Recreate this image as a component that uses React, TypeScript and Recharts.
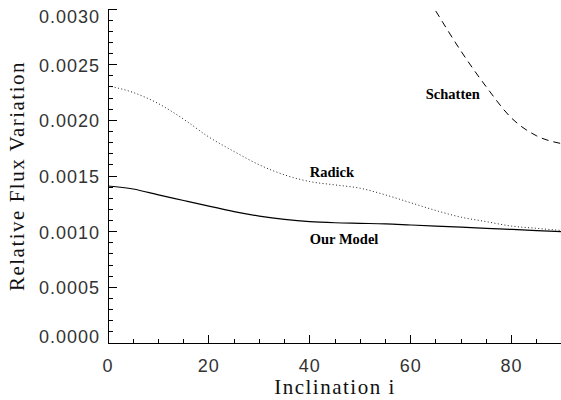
import React from "react";
import { LineChart, Line, XAxis, YAxis, ReferenceDot } from "recharts";

// inclination grid (degrees)
const inclination = [0, 5, 10, 15, 20, 25, 30, 35, 40, 45, 50, 55, 60, 65, 70, 75, 80, 85, 90];

// relative flux variation for each model
const modelFlux = [
  0.00141, 0.001383, 0.00133, 0.00128, 0.00123, 0.00118, 0.00114, 0.00111, 0.00109, 0.00108,
  0.001075, 0.00107, 0.00106, 0.00105, 0.00104, 0.00103, 0.00102, 0.00101, 0.001,
];
const radickFlux = [
  0.00231, 0.00225, 0.00215, 0.00201, 0.00185, 0.00172, 0.0016, 0.00151, 0.00145, 0.00142,
  0.00139, 0.00133, 0.00126, 0.00119, 0.00113, 0.00109, 0.00105, 0.00103, 0.00101,
];
const schattenFlux = [
  null, null, null, null, null, null, null, null, null, null,
  null, null, 0.00335, 0.00298, 0.00262, 0.0023, 0.00202, 0.00186, 0.00179,
];

// series labels: [text, inclination, flux at baseline]
const seriesLabels: [string, number, number][] = [
  ["Schatten", 63, 0.002194],
  ["Radick", 40, 0.001494],
  ["Our Model", 40, 0.000892],
];

const xTicks = inclination;
const xMajor = [0, 20, 40, 60, 80];
const yTicks = Array.from({ length: 31 }, (_, k) => k / 10000);

const rows = inclination.map((incl, i) => ({
  incl,
  model: modelFlux[i],
  radick: radickFlux[i],
  schatten: schattenFlux[i],
}));

const tickFont = { fontFamily: "Liberation Sans, Arial, sans-serif", fontSize: 18, fill: "#333", letterSpacing: 1 };
const isYMajor = (v: number) => Math.round(v * 10000) % 5 === 0;

const LeftTick = ({ x, y, payload }: any) => {
  const v = payload.value;
  const major = isYMajor(v);
  let dy = 1;
  if (Math.round(v * 10000) === 30) dy = 8;
  if (Math.round(v * 10000) === 0) dy = -6;
  return (
    <g>
      <line x1={x} x2={x + (major ? 9 : 5)} y1={y} y2={y} stroke="#000" shapeRendering="crispEdges" />
      {major && (
        <text x={x - 8} y={y + dy} textAnchor="end" dominantBaseline="central" {...tickFont}>
          {v.toFixed(4)}
        </text>
      )}
    </g>
  );
};

const RightTick = ({ x, y, payload }: any) => {
  const major = isYMajor(payload.value);
  return <line x1={x} x2={x - (major ? 9 : 5)} y1={y} y2={y} stroke="#000" shapeRendering="crispEdges" />;
};

const BottomTick = ({ x, y, payload }: any) => {
  const major = xMajor.includes(payload.value);
  return (
    <g>
      <line x1={x} x2={x} y1={y} y2={y - (major ? 8 : 4.5)} stroke="#000" shapeRendering="crispEdges" />
      {major && (
        <text x={x} y={y + 23} textAnchor="middle" dominantBaseline="central" {...tickFont}>
          {payload.value}
        </text>
      )}
    </g>
  );
};

const TopTick = ({ x, y, payload }: any) => {
  const major = xMajor.includes(payload.value);
  return <line x1={x} x2={x} y1={y} y2={y + (major ? 8 : 4.5)} stroke="#000" shapeRendering="crispEdges" />;
};

const axisLine = { stroke: "#000", shapeRendering: "crispEdges" };
const labelFont = { fontFamily: "Liberation Serif, serif", fontSize: 21, fill: "#111", letterSpacing: 1.5 };

export default function App() {
  return (
    <div style={{ position: "absolute", left: 0, top: 0, width: 561, height: 400, overflow: "hidden", background: "#fff" }}>
      <LineChart width={565} height={400} data={rows} margin={{ top: 9, right: 3, bottom: 0, left: 0 }}>
        <XAxis
          xAxisId="bottom"
          type="number"
          dataKey="incl"
          domain={[0, 90]}
          ticks={xTicks}
          interval={0}
          height={57}
          tickSize={0}
          tickMargin={0}
          tickLine={false}
          axisLine={axisLine}
          tick={<BottomTick />}
        />
        <XAxis
          xAxisId="top"
          orientation="top"
          type="number"
          dataKey="incl"
          domain={[0, 90]}
          ticks={xTicks}
          interval={0}
          height={0}
          tickSize={0}
          tickMargin={0}
          tickLine={false}
          axisLine={axisLine}
          tick={<TopTick />}
        />
        <YAxis
          yAxisId="left"
          type="number"
          domain={[0, 0.003]}
          allowDataOverflow
          ticks={yTicks}
          interval={0}
          width={108}
          tickSize={0}
          tickMargin={0}
          tickLine={false}
          axisLine={axisLine}
          tick={<LeftTick />}
        />
        <YAxis
          yAxisId="right"
          orientation="right"
          type="number"
          domain={[0, 0.003]}
          ticks={yTicks}
          interval={0}
          width={0}
          tickSize={0}
          tickMargin={0}
          tickLine={false}
          axisLine={axisLine}
          tick={<RightTick />}
        />
        <Line xAxisId="bottom" yAxisId="left" type="monotone" dataKey="model" stroke="#000" strokeWidth={1.2}
          dot={false} activeDot={false} isAnimationActive={false} />
        <Line xAxisId="bottom" yAxisId="left" type="monotone" dataKey="radick" stroke="#222" strokeWidth={1}
          strokeDasharray="1 2.4" dot={false} activeDot={false} isAnimationActive={false} />
        <Line xAxisId="bottom" yAxisId="left" type="monotone" dataKey="schatten" stroke="#000" strokeWidth={1}
          strokeDasharray="7 5" dot={false} activeDot={false} isAnimationActive={false} />
        {seriesLabels.map(([name, xv, yv]) => (
          <ReferenceDot
            key={name}
            xAxisId="bottom"
            yAxisId="left"
            x={xv}
            y={yv}
            shape={(p: any) => (
              <text x={p.cx} y={p.cy} fontFamily="Liberation Serif, serif" fontWeight="bold" fontSize={14.5} fill="#000">
                {name}
              </text>
            )}
          />
        ))}
        <text x={335} y={394} textAnchor="middle" {...labelFont}>
          Inclination i
        </text>
        <text x={0} y={0} transform="translate(24,176) rotate(-90)" textAnchor="middle" {...labelFont}>
          Relative Flux Variation
        </text>
      </LineChart>
    </div>
  );
}
